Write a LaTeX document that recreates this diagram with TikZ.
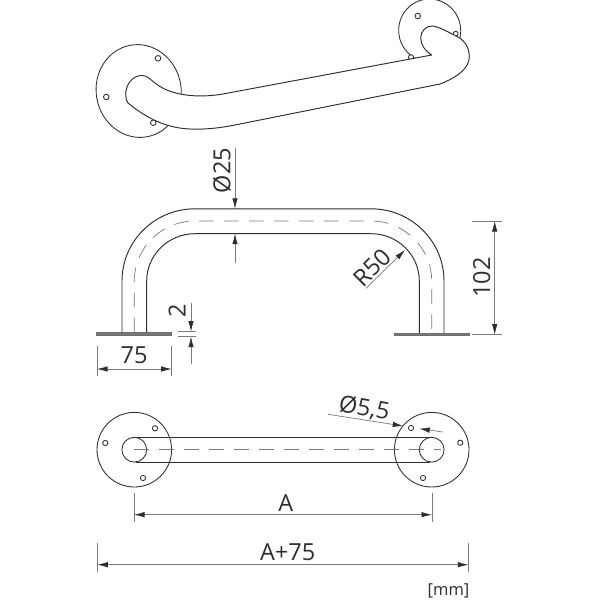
\documentclass[tikz,border=0pt]{standalone}
\usepackage{fontspec}
\setmainfont{Open Sans}
\usetikzlibrary{arrows.meta}
\definecolor{ink}{HTML}{2E2E2E}
\definecolor{dimline}{HTML}{7A7A7A}
\tikzset{
  outline/.style={draw=ink,line width=0.95pt,line join=round},
  tube/.style={outline,fill=white},
  plateface/.style={outline,line width=0.85pt,fill=white},
  hole/.style={draw=ink,line width=0.85pt,fill=white},
  centre/.style={draw=dimline,line width=0.7pt,dash pattern=on 14.5pt off 10.5pt},
  extline/.style={draw=dimline,line width=0.7pt},
  dimarrow/.style={draw=dimline,line width=0.7pt,{Latex[length=10.5pt,width=5.5pt,color=ink]}-{Latex[length=10.5pt,width=5.5pt,color=ink]}},
  endarrow/.style={draw=dimline,line width=0.7pt,-{Latex[length=10.5pt,width=5.5pt,color=ink]}},
  footplate/.style={draw=ink!70,line width=0.5pt,fill=dimline},
  dimtext/.style={text=ink,inner sep=0pt,font=\fontsize{23.5}{25}\selectfont},
  unittext/.style={text=ink,inner sep=0pt,font=\fontsize{16.5}{18}\selectfont},
}
\begin{document}
\begin{tikzpicture}[x=1pt,y=-1pt]
\useasboundingbox (0,0) rectangle (600,600);
\fill[white] (0,0) rectangle (600,600);

% ---------- perspective view
\draw[plateface] (138.7,91) circle [x radius=42.5,y radius=46.5,rotate=10];
\draw[plateface] (429.7,30.5) circle [x radius=31,y radius=31.5,rotate=10];
\draw[hole] (158,58.3) circle (2.8);
\draw[hole] (106.3,97) circle (2.8);
\draw[hole] (153.3,122.7) circle (2.8);
\draw[hole] (417.7,16) circle (2.8);
\draw[hole] (455.7,33.7) circle (2.4);
\draw[hole] (411,57.3) circle (2.6);
\draw[tube] (125.7,95) .. controls (125.5,84) and (133,75.5) .. (141.7,75.5)
 .. controls (150,75.5) and (152,84) .. (168,90.5)
 .. controls (185,97) and (205,97) .. (223,94)
 -- (431.7,55)
 .. controls (424,50) and (420.7,44) .. (420.7,38)
 .. controls (420.7,31) and (426,26) .. (432,26)
 .. controls (438,26) and (450,33) .. (458,37)
 .. controls (465,41) and (469.3,48) .. (469.3,56.7)
 .. controls (469.3,68) and (458,77) .. (440,84)
 -- (235,125)
 .. controls (215,129) and (200,129.5) .. (190,129)
 .. controls (165,128) and (145,117) .. (128,103)
 .. controls (126.5,101) and (125.8,98) .. (125.7,95) -- cycle;

% ---------- front view
\draw[footplate] (96.7,332.2) rectangle (171.7,334.8);
\draw[footplate] (394,332.9) rectangle (469,335.5);
\draw[outline] (122,332.2) -- (122,281) .. controls (122,241.1) and (154.7,208.8) .. (195,208.8) -- (371,208.8) .. controls (411.3,208.8) and (444,241.1) .. (444,281) -- (444,332.9);
\draw[outline] (146.7,332.2) -- (146.7,281) .. controls (146.7,254.9) and (168.3,233.7) .. (195,233.7) -- (371,233.7) .. controls (397.7,233.7) and (419.3,254.9) .. (419.3,281) -- (419.3,332.9);
\draw[centre] (134.3,332.2) -- (134.3,281) .. controls (134.3,247.9) and (161.5,221) .. (195,221) -- (371,221) .. controls (404.5,221) and (431.7,247.9) .. (431.7,281) -- (431.7,332.9);

% ---------- dimensions of the front view
\coordinate (d25a) at (235,148);
\coordinate (d25b) at (235,208.8);
\coordinate (d25c) at (235,263);
\coordinate (d25d) at (235,233.7);
\draw[endarrow] (d25a) -- (d25b);
\draw[endarrow] (d25c) -- (d25d);
\node[dimtext,rotate=90] (t25) at (222,170.5) {Ø25};

\coordinate (d2a) at (191,303);
\coordinate (d2b) at (191,331.7);
\coordinate (d2c) at (191,364);
\coordinate (d2d) at (191,336.7);
\draw[endarrow] (d2a) -- (d2b);
\draw[endarrow] (d2c) -- (d2d);
\coordinate (e2a) at (178,331.7);
\coordinate (e2b) at (196,331.7);
\coordinate (e2c) at (178,336.7);
\coordinate (e2d) at (196,336.7);
\draw[extline] (e2a) -- (e2b);
\draw[extline] (e2c) -- (e2d);
\node[dimtext,rotate=90] (t2) at (177,310.5) {2};

\coordinate (e75a) at (97,346);
\coordinate (e75b) at (97,375.7);
\coordinate (e75c) at (171.7,346);
\coordinate (e75d) at (171.7,375.7);
\draw[extline] (e75a) -- (e75b);
\draw[extline] (e75c) -- (e75d);
\coordinate (d75a) at (97,369);
\coordinate (d75b) at (171.7,369);
\draw[dimarrow] (d75a) -- (d75b);
\node[dimtext] (t75) at (134,355) {75};

\coordinate (r50a) at (366,288.3);
\coordinate (r50b) at (405,250);
\draw[endarrow] (r50a) -- (r50b);
\node[dimtext,rotate=45] (tr50) at (372,267.5) {R50};

\coordinate (e102a) at (472,221);
\coordinate (e102b) at (501.7,221);
\coordinate (e102c) at (472,334.7);
\coordinate (e102d) at (501.7,334.7);
\draw[extline] (e102a) -- (e102b);
\draw[extline] (e102c) -- (e102d);
\coordinate (d102a) at (494.7,221);
\coordinate (d102b) at (494.7,334.7);
\draw[dimarrow] (d102a) -- (d102b);
\node[dimtext,rotate=90] (t102) at (481.7,277.5) {102};

% ---------- plan view
\draw[outline,line width=0.85pt] (134.3,449.7) circle (37.3);
\draw[outline,line width=0.85pt] (431.7,449.7) circle (37.3);
\draw[outline] (136,437.4) -- (430,437.4);
\draw[outline] (136,462) -- (430,462);
\draw[outline,line width=0.85pt] (134.3,449.7) circle (12.4);
\draw[outline,line width=0.85pt] (431.7,449.7) circle (12.4);
\draw[centre] (134.3,449.7) -- (441,449.7);
\draw[hole] (155,428.3) circle (2.6);
\draw[hole] (105.3,443) circle (2.6);
\draw[hole] (143,478) circle (2.6);
\draw[hole] (411,428) circle (2.6);
\draw[hole] (460.3,442.7) circle (2.6);
\draw[hole] (423,478) circle (2.6);

% ---------- dimensions of the plan view
\coordinate (h55a) at (328,414.3);
\coordinate (h55b) at (403.2,426);
\coordinate (h55c) at (442.7,432);
\coordinate (h55d) at (419.3,428.6);
\draw[endarrow] (h55a) -- (h55b);
\draw[endarrow] (h55c) -- (h55d);
\node[dimtext,rotate=-10] (t55) at (364.3,408.5) {Ø5,5};

\coordinate (eAa) at (134,492.7);
\coordinate (eAb) at (134,522);
\coordinate (eAc) at (432,492.7);
\coordinate (eAd) at (432,522);
\draw[extline] (eAa) -- (eAb);
\draw[extline] (eAc) -- (eAd);
\coordinate (dAa) at (134,514.7);
\coordinate (dAb) at (432,514.7);
\draw[dimarrow] (dAa) -- (dAb);
\node[dimtext] (tA) at (285.7,502.7) {A};

\coordinate (eBa) at (97.3,542.7);
\coordinate (eBb) at (97.3,572.3);
\coordinate (eBc) at (468.3,542.7);
\coordinate (eBd) at (468.3,572.3);
\draw[extline] (eBa) -- (eBb);
\draw[extline] (eBc) -- (eBd);
\coordinate (dBa) at (97.3,564.7);
\coordinate (dBb) at (468.3,564.7);
\draw[dimarrow] (dBa) -- (dBb);
\node[dimtext] (tB) at (287.7,552.3) {A+75};

\node[unittext,anchor=east] (tmm) at (469.5,591) {[mm]};
\end{tikzpicture}
\end{document}
